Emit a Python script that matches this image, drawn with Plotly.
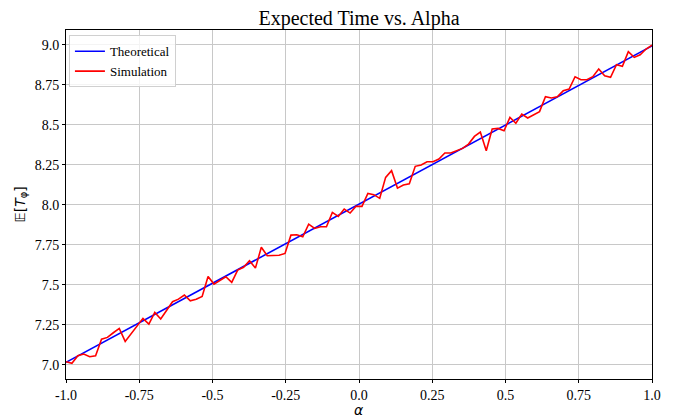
import numpy as np
import plotly.graph_objects as go

# ---- data ----
alpha_sim = np.linspace(-1, 1, 100)
sim_values = [
    7.019, 7.009, 7.056, 7.067, 7.050, 7.056, 7.160, 7.171, 7.200, 7.227,
    7.146, 7.196, 7.240, 7.290, 7.254, 7.327, 7.286, 7.344, 7.394, 7.410,
    7.436, 7.400, 7.410, 7.427, 7.552, 7.504, 7.525, 7.550, 7.515, 7.592,
    7.609, 7.650, 7.604, 7.734, 7.681, 7.684, 7.684, 7.696, 7.810, 7.812,
    7.800, 7.879, 7.852, 7.862, 7.862, 7.952, 7.927, 7.973, 7.948, 7.990,
    7.990, 8.071, 8.063, 8.040, 8.171, 8.213, 8.104, 8.123, 8.131, 8.240,
    8.248, 8.269, 8.269, 8.286, 8.323, 8.323, 8.337, 8.352, 8.379, 8.427,
    8.454, 8.337, 8.473, 8.477, 8.462, 8.546, 8.509, 8.567, 8.542, 8.561,
    8.582, 8.675, 8.667, 8.675, 8.712, 8.723, 8.800, 8.781, 8.781, 8.800,
    8.848, 8.806, 8.796, 8.875, 8.865, 8.956, 8.921, 8.937, 8.973, 8.998,
]
alpha_theory = [-1.0, 1.0]
theory_values = [7.015, 8.993]

x_tickvals = [-1.0, -0.75, -0.5, -0.25, 0.0, 0.25, 0.5, 0.75, 1.0]
x_ticktext = ["-1.0", "-0.75", "-0.5", "-0.25", "0.0", "0.25", "0.5", "0.75", "1.0"]
y_tickvals = [7.0, 7.25, 7.5, 7.75, 8.0, 8.25, 8.5, 8.75, 9.0]
y_ticktext = ["7.0", "7.25", "7.5", "7.75", "8.0", "8.25", "8.5", "8.75", "9.0"]

SERIF = "Liberation Serif, Times New Roman, serif"

fig = go.Figure()
fig.add_trace(go.Scatter(x=alpha_theory, y=theory_values, mode="lines",
                         name="Theoretical", line=dict(color="#0000ff", width=1.6)))
fig.add_trace(go.Scatter(x=alpha_sim, y=sim_values, mode="lines",
                         name="Simulation", line=dict(color="#ff0000", width=1.6)))

axis_common = dict(showline=True, linecolor="black", linewidth=1, mirror=True,
                   showgrid=True, gridcolor="#c8c8c8", gridwidth=1,
                   ticks="outside", ticklen=3, tickcolor="black", tickwidth=1,
                   zeroline=False, automargin=False,
                   tickfont=dict(family=SERIF, size=14, color="black"))

# page body has an 8px margin, so the figure is sized/offset to match the window
W, H = 659, 412
fig.update_layout(
    width=W, height=H,
    margin=dict(l=58, r=15, t=22, b=41),
    paper_bgcolor="white", plot_bgcolor="white",
    title=dict(text="Expected Time vs. Alpha", x=0.5, xanchor="center", xref="paper",
               y=1 - 3 / H, yanchor="top", yref="container", automargin=False,
               font=dict(family=SERIF, size=20, color="black")),
    xaxis=dict(range=[-1, 1], tickvals=x_tickvals, ticktext=x_ticktext, **axis_common),
    yaxis=dict(range=[6.911, 9.092], tickvals=y_tickvals, ticktext=y_ticktext, **axis_common),
    legend=dict(x=0.005, y=0.985, xanchor="left", yanchor="top",
                bgcolor="rgba(255,255,255,0.8)", bordercolor="#d0d0d0", borderwidth=1,
                font=dict(family=SERIF, size=13, color="black"),
                tracegroupgap=0, itemwidth=30),
    showlegend=True,
)

# axis titles
fig.add_annotation(text="<i>α</i>", xref="paper", yref="paper", x=0.5, y=0,
                   xanchor="center", yanchor="middle", yshift=-31, showarrow=False,
                   font=dict(family="DejaVu Sans", size=14, color="black"))
fig.add_annotation(text="𝔼[<i>T</i><sub>φ</sub>]", xref="paper", yref="paper", x=0, y=0.5,
                   xanchor="center", yanchor="middle", xshift=-46, textangle=-90,
                   showarrow=False,
                   font=dict(family="DejaVu Sans", size=14, color="black"))

fig.write_html("out.html")
